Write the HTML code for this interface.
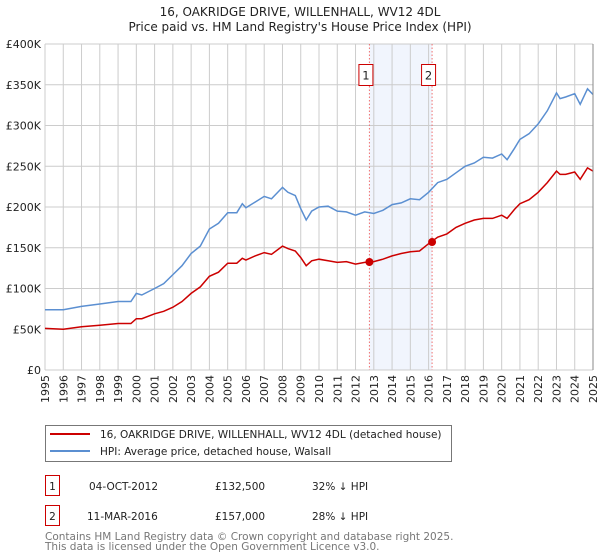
<!DOCTYPE html>
<html><head><meta charset="utf-8"><style>
body{margin:0;background:#fff;}
svg{display:block;font-family:"DejaVu Sans","Liberation Sans",sans-serif;}
</style></head><body>
<svg id="chart" width="600" height="560" viewBox="0 0 600 560" xmlns="http://www.w3.org/2000/svg">
<text x="300" y="16" text-anchor="middle" font-size="12" fill="#222">16, OAKRIDGE DRIVE, WILLENHALL, WV12 4DL</text>
<text x="300" y="31" text-anchor="middle" font-size="12" fill="#222">Price paid vs. HM Land Registry's House Price Index (HPI)</text>
<g id="grid"></g>
<g id="marks"></g>
<g id="legend">
<rect x="45.5" y="425.5" width="406" height="36" fill="#fff" stroke="#777"/>
<line x1="50" y1="434" x2="90" y2="434" stroke="#cc0000" stroke-width="2"/>
<text x="100" y="438" font-size="10.5" fill="#222">16, OAKRIDGE DRIVE, WILLENHALL, WV12 4DL (detached house)</text>
<line x1="50" y1="451" x2="90" y2="451" stroke="#5b8fd1" stroke-width="2"/>
<text x="100" y="455" font-size="10.5" fill="#222">HPI: Average price, detached house, Walsall</text>
</g>
<g font-size="10.5" fill="#222">
<rect x="45.5" y="475.5" width="14" height="20" fill="#fff" stroke="#cc0000"/>
<text x="52.5" y="490" text-anchor="middle">1</text>
<text x="89" y="490">04-OCT-2012</text>
<text x="215" y="490">£132,500</text>
<text x="312" y="490">32% ↓ HPI</text>
<rect x="45.5" y="505.5" width="14" height="20" fill="#fff" stroke="#cc0000"/>
<text x="52.5" y="520" text-anchor="middle">2</text>
<text x="87" y="520">11-MAR-2016</text>
<text x="215" y="520">£157,000</text>
<text x="312" y="520">28% ↓ HPI</text>
</g>
<g font-size="10.5" fill="#777">
<text x="45" y="540">Contains HM Land Registry data © Crown copyright and database right 2025.</text>
<text x="45" y="550">This data is licensed under the Open Government Licence v3.0.</text>
</g>
</svg>
<script>
const yTicks=[0,50000,100000,150000,200000,250000,300000,350000,400000];
const yTickLabels=["£0","£50K","£100K","£150K","£200K","£250K","£300K","£350K","£400K"];
const xTicks=[1995,1996,1997,1998,1999,2000,2001,2002,2003,2004,2005,2006,2007,2008,2009,2010,2011,2012,2013,2014,2015,2016,2017,2018,2019,2020,2021,2022,2023,2024,2025];
const hpiYears=[1995,1996,1997,1998,1999,1999.7,2000,2000.3,2001,2001.5,2002,2002.5,2003,2003.5,2004,2004.5,2005,2005.5,2005.8,2006,2006.5,2007,2007.4,2008,2008.3,2008.7,2009,2009.3,2009.6,2010,2010.5,2011,2011.5,2012,2012.5,2013,2013.5,2014,2014.5,2015,2015.5,2016,2016.5,2017,2017.5,2018,2018.5,2019,2019.5,2020,2020.3,2020.7,2021,2021.5,2022,2022.5,2023,2023.2,2023.5,2024,2024.3,2024.7,2025];
const hpiValues=[74000,74000,78000,81000,84000,84000,94000,92000,100000,106000,117000,128000,143000,152000,173000,180000,193000,193000,204000,199000,206000,213000,210000,224000,218000,214000,198000,184000,195000,200000,201000,195000,194000,190000,194000,192000,196000,203000,205000,210000,209000,218000,230000,234000,242000,250000,254000,261000,260000,265000,258000,272000,283000,290000,302000,318000,340000,333000,335000,339000,326000,345000,338000];
const propYears=hpiYears;
const propValues=[51000,50000,53000,55000,57000,57000,63000,63000,69000,72000,77000,84000,94000,102000,115000,120000,131000,131000,137000,135000,140000,144000,142000,152000,149000,146000,138000,128000,134000,136000,134000,132000,133000,130000,132000,133000,136000,140000,143000,145000,146000,155000,163000,167000,175000,180000,184000,186000,186000,190000,186000,197000,204000,209000,218000,230000,244000,240000,240000,243000,234000,248000,244000];
const saleYears=[2012.76,2016.19];
const saleValues=[132500,157000];
const saleLabels=["1","2"];

const X0=45,X1=593,Y0=370,Y1=44;
const xs=y=>X0+(y-1995)/(2025-1995)*(X1-X0);
const ys=v=>Y0-v/400000*(Y0-Y1);
const NS="http://www.w3.org/2000/svg";
function mk(tag,attrs,parent){const e=document.createElementNS(NS,tag);for(const k in attrs)e.setAttribute(k,attrs[k]);parent.appendChild(e);return e;}
const grid=document.getElementById('grid'),marks=document.getElementById('marks');

const sh=mk('rect',{x:xs(saleYears[0]),y:Y1,width:xs(saleYears[1])-xs(saleYears[0]),height:Y0-Y1,fill:'#eef3fd',opacity:0.8},grid);



yTicks.forEach((t,i)=>{
  const l=mk('line',{x1:X0,x2:X1,y1:ys(t),y2:ys(t),stroke:'#cccccc'},grid);
  
  
  const tx=mk('text',{x:X0-4,y:ys(t)+4,'text-anchor':'end','font-size':'11',fill:'#222'},grid);
  tx.textContent=yTickLabels[i];
  
  
});
xTicks.forEach(t=>{
  const l=mk('line',{x1:xs(t),x2:xs(t),y1:Y1,y2:Y0,stroke:'#cccccc'},grid);
  
  
  const tx=mk('text',{x:0,y:0,'text-anchor':'end','font-size':'11',fill:'#222',transform:`translate(${xs(t)+4},${Y0+5}) rotate(-90)`},grid);
  tx.textContent=t;
  
  
});

saleYears.forEach((y,i)=>{
  const l=mk('line',{x1:xs(y),x2:xs(y),y1:Y1,y2:Y0,stroke:'#f07070','stroke-dasharray':'1.5,2'},marks);
  
  
  const b=mk('rect',{x:xs(y)-10.5,y:64.5,width:14,height:21,fill:'#fff',stroke:'#cc0000'},marks);
  
  
  const t=mk('text',{x:xs(y)-3.5,y:79.5,'text-anchor':'middle','font-size':'11.5',fill:'#222'},marks);
  t.textContent=saleLabels[i];
  
  
});

const hp=mk('path',{d:hpiYears.map((y,i)=>(i?'L':'M')+xs(y).toFixed(1)+','+ys(hpiValues[i]).toFixed(1)).join(''),fill:'none',stroke:'#5b8fd1','stroke-width':1.5},marks);


const pp=mk('path',{d:propYears.map((y,i)=>(i?'L':'M')+xs(y).toFixed(1)+','+ys(propValues[i]).toFixed(1)).join(''),fill:'none',stroke:'#cc0000','stroke-width':1.5},marks);



saleYears.forEach((y,i)=>{
  const c=mk('circle',{cx:xs(y),cy:ys(saleValues[i]),r:4,fill:'#cc0000'},marks);
  
  
});
const ax=mk('line',{x1:X1,x2:X1,y1:Y1,y2:Y0,stroke:'#888'},marks);


</script>
</body></html>
